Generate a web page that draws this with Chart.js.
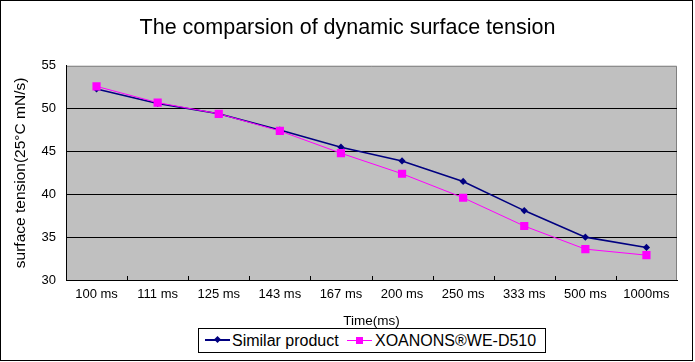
<!DOCTYPE html>
<html>
<head>
<meta charset="utf-8">
<script src="https://cdn.jsdelivr.net/npm/chart.js@4"></script>
<style>
  body { margin: 0; background: #fff; }
  #wrap { position: relative; width: 695px; height: 362px; }
  #frame { position: absolute; left: 0; top: 0; width: 693px; height: 361px; box-sizing: border-box; border: 1px solid #000; pointer-events: none; }
  #legend { position: absolute; left: 198px; top: 328px; width: 348px; height: 25px; box-sizing: border-box; border: 1px solid #000; background: #fff;
            font-family: Arial, "Liberation Sans", sans-serif; font-size: 16px; color: #000; }
  #legend span.txt { position: absolute; top: 2px; line-height: 19px; white-space: nowrap; }
  .icon { position: absolute; top: 11px; width: 25px; height: 0; }
  .icon .ln { position: absolute; left: 0; top: -1px; width: 25px; }
  .icon .mk { position: absolute; }
</style>
</head>
<body>
<div id="wrap">
  <canvas id="chart" width="695" height="362"></canvas>
  <div id="frame"></div>
  <div id="legend">
    <div class="icon" style="left:6px"><div class="ln" style="height:2px;background:#000080"></div><div class="mk" style="left:10px;top:-3px;width:5px;height:5px;background:#000080;transform:rotate(45deg)"></div></div>
    <span class="txt" style="left:33px">Similar product</span>
    <div class="icon" style="left:148px"><div class="ln" style="height:1px;background:#ff00ff;top:0"></div><div class="mk" style="left:9px;top:-3px;width:7px;height:7px;background:#ff00ff"></div></div>
    <span class="txt" style="left:176px">XOANONS®WE-D510</span>
  </div>
</div>
<script>
// categories and series
const times = ["100 ms", "111 ms", "125 ms", "143 ms", "167 ms", "200 ms", "250 ms", "333 ms", "500 ms", "1000ms"];
const similarProduct = [52.3, 50.6, 49.4, 47.5, 45.5, 43.9, 41.5, 38.1, 35.0, 33.8];
const xoanons = [52.6, 50.7, 49.4, 47.4, 44.8, 42.4, 39.6, 36.3, 33.6, 32.9];
const yTicks = [30, 35, 40, 45, 50, 55];

const font = "Arial, 'Liberation Sans', sans-serif";

// gray plot background with gray top/right border, plus small inside tick marks on x axis
const plotArea = {
  id: "plotArea",
  beforeDraw(chart) {
    const { ctx, chartArea: a } = chart;
    ctx.save();
    ctx.fillStyle = "#c0c0c0";
    ctx.fillRect(a.left, a.top, a.right - a.left, a.bottom - a.top);
    ctx.strokeStyle = "#808080";
    ctx.lineWidth = 1;
    ctx.beginPath();
    ctx.moveTo(a.left, a.top + 0.5);
    ctx.lineTo(a.right - 0.5, a.top + 0.5);
    ctx.lineTo(a.right - 0.5, a.bottom);
    ctx.stroke();
    ctx.restore();
  },
  beforeDatasetsDraw(chart) {
    const { ctx, chartArea: a } = chart;
    const xs = chart.scales.x;
    ctx.save();
    ctx.strokeStyle = "#000";
    ctx.lineWidth = 1;
    ctx.beginPath();
    for (let i = 1; i < times.length; i++) {
      const x = Math.round((xs.getPixelForValue(i - 1) + xs.getPixelForValue(i)) / 2) + 0.5;
      ctx.moveTo(x, a.bottom);
      ctx.lineTo(x, a.bottom - 4);
    }
    ctx.stroke();
    ctx.restore();
  }
};

new Chart(document.getElementById("chart"), {
  type: "line",
  data: {
    labels: times,
    datasets: [
      {
        label: "XOANONS®WE-D510",
        data: xoanons,
        borderColor: "#ff00ff",
        backgroundColor: "#ff00ff",
        borderWidth: 1,
        pointStyle: "rect",
        pointRadius: 5.8,
        pointBorderWidth: 0,
        order: 0,
      },
      {
        label: "Similar product",
        data: similarProduct,
        borderColor: "#000080",
        backgroundColor: "#000080",
        borderWidth: 1.6,
        pointStyle: "rectRot",
        pointRadius: 3.6,
        pointBorderWidth: 0,
        order: 1,
      },
    ],
  },
  options: {
    responsive: false,
    animation: false,
    layout: { padding: 0 },
    plugins: {
      legend: { display: false },
      tooltip: { enabled: false },
      title: {
        display: true,
        text: "The comparsion of dynamic surface tension",
        color: "#000",
        font: { family: font, size: 21.5, weight: "normal" },
        padding: { top: 15, bottom: 25 },
      },
    },
    scales: {
      x: {
        offset: true,
        grid: { display: false, drawTicks: false },
        border: { display: true, color: "#000", width: 1 },
        ticks: { color: "#000", font: { family: font, size: 13 }, padding: 7, maxRotation: 0, autoSkip: false },
        title: {
          display: true,
          text: "Time(ms)",
          color: "#000",
          font: { family: font, size: 13.5 },
          padding: { top: 0, bottom: 33 },
        },
        afterFit: (s) => { s.height = 82; },
      },
      y: {
        min: yTicks[0],
        max: yTicks[yTicks.length - 1],
        afterBuildTicks: (s) => { s.ticks = yTicks.map((v) => ({ value: v })); },
        grid: {
          drawTicks: false,
          color: (c) => (c.tick && c.tick.value === 55 ? "rgba(0,0,0,0)" : "#000"),
          lineWidth: 1,
        },
        border: { display: true, color: "#000", width: 1 },
        ticks: { color: "#000", font: { family: font, size: 13 }, padding: 10 },
        title: {
          display: true,
          text: "surface tension(25°C mN/s)",
          color: "#000",
          font: { family: font, size: 15.5 },
          padding: { top: 11, bottom: 0 },
        },
        afterFit: (s) => { s.width = 66; },
      },
      // empty right-hand spacer so the title stays centred on the whole canvas
      spacer: {
        type: "linear",
        position: "right",
        display: true,
        grid: { display: false, drawTicks: false },
        border: { display: false },
        ticks: { display: false },
        afterFit: (s) => { s.width = 18; },
      },
    },
  },
  plugins: [plotArea],
});
</script>
</body>
</html>
